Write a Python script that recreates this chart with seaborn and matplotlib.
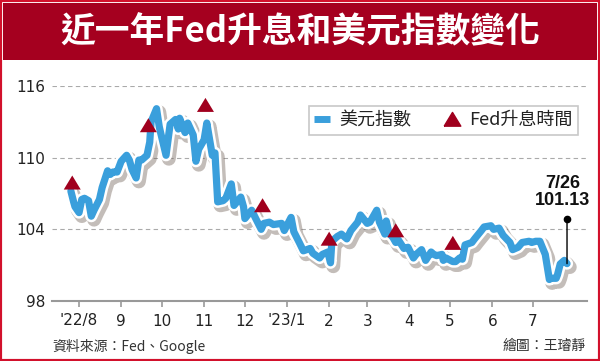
import matplotlib
matplotlib.use('Agg')
import matplotlib.pyplot as plt
import matplotlib.patheffects as pe
import matplotlib.dates as mdates
import matplotlib.transforms as mtrans
from matplotlib.lines import Line2D
from matplotlib.patches import Rectangle
import pandas as pd
import seaborn as sns

# ---------------- data ----------------
dxy_dates = [
    "2022-07-26", "2022-07-28", "2022-07-29", "2022-08-01", "2022-08-03", "2022-08-05",
    "2022-08-08", "2022-08-10", "2022-08-12", "2022-08-16", "2022-08-18", "2022-08-22",
    "2022-08-24", "2022-08-26", "2022-08-29", "2022-09-01", "2022-09-05", "2022-09-07",
    "2022-09-09", "2022-09-12", "2022-09-14", "2022-09-16", "2022-09-20", "2022-09-22",
    "2022-09-23", "2022-09-27", "2022-09-29", "2022-09-30", "2022-10-04", "2022-10-07",
    "2022-10-11", "2022-10-13", "2022-10-14", "2022-10-18", "2022-10-20", "2022-10-24",
    "2022-10-26", "2022-10-28", "2022-11-01", "2022-11-03", "2022-11-07", "2022-11-09",
    "2022-11-11", "2022-11-15", "2022-11-17", "2022-11-21", "2022-11-23", "2022-11-28",
    "2022-11-30", "2022-12-01", "2022-12-06", "2022-12-09", "2022-12-13", "2022-12-15",
    "2022-12-19", "2022-12-22", "2022-12-28", "2022-12-30", "2023-01-04", "2023-01-06",
    "2023-01-10", "2023-01-13", "2023-01-18", "2023-01-20", "2023-01-25", "2023-01-27",
    "2023-01-31", "2023-02-02", "2023-02-03", "2023-02-07", "2023-02-10", "2023-02-14",
    "2023-02-17", "2023-02-22", "2023-02-24", "2023-03-01", "2023-03-03", "2023-03-08",
    "2023-03-10", "2023-03-14", "2023-03-15", "2023-03-17", "2023-03-20", "2023-03-22",
    "2023-03-24", "2023-03-28", "2023-03-31", "2023-04-04", "2023-04-06", "2023-04-10",
    "2023-04-13", "2023-04-17", "2023-04-19", "2023-04-21", "2023-04-25", "2023-04-26",
    "2023-04-28", "2023-05-03", "2023-05-05", "2023-05-08", "2023-05-10", "2023-05-12",
    "2023-05-17", "2023-05-19", "2023-05-24", "2023-05-26", "2023-05-31", "2023-06-02",
    "2023-06-06", "2023-06-09", "2023-06-14", "2023-06-16", "2023-06-20", "2023-06-23",
    "2023-06-28", "2023-06-30", "2023-07-03", "2023-07-06", "2023-07-10", "2023-07-12",
    "2023-07-13", "2023-07-14", "2023-07-18", "2023-07-19", "2023-07-21", "2023-07-24",
    "2023-07-26",
]
dxy_values = [
    107.2, 106.3, 105.9, 105.4, 106.5, 106.6,
    106.4, 105.1, 105.6, 106.5, 107.5, 108.9,
    108.6, 108.8, 108.8, 109.7, 110.2, 109.8,
    109.0, 108.3, 109.8, 109.8, 110.2, 111.3,
    113.0, 114.1, 112.6, 112.1, 110.2, 112.8,
    113.2, 112.4, 113.3, 112.1, 112.9, 111.9,
    109.7, 110.7, 111.5, 112.9, 110.2, 110.4,
    106.3, 106.4, 106.6, 107.8, 106.0, 106.7,
    105.9, 104.9, 105.6, 104.9, 104.0, 104.5,
    104.6, 104.4, 104.5, 103.9, 105.0, 103.8,
    102.9, 102.2, 102.4, 102.0, 101.6, 101.9,
    102.1, 101.2, 103.0, 103.4, 103.6, 103.2,
    103.9, 104.6, 105.2, 104.5, 104.6, 105.6,
    104.6, 103.6, 104.7, 103.7, 103.3, 102.9,
    103.1, 102.4, 102.5, 101.6, 101.9, 102.3,
    101.4, 102.1, 101.9, 101.8, 101.9, 101.4,
    101.6, 101.3, 101.3, 101.6, 101.5, 102.7,
    102.9, 103.2, 103.9, 104.2, 104.3, 104.0,
    104.1, 103.5, 102.9, 102.3, 102.5, 102.9,
    103.0, 102.9, 103.0, 103.0, 101.9, 100.5,
    99.8, 99.9, 99.9, 100.2, 101.1, 101.4,
    101.13,
]
hike_dates = ["2022-07-27", "2022-09-21", "2022-11-02", "2022-12-14",
              "2023-02-01", "2023-03-22", "2023-05-03"]
hike_marker_values = [107.9, 112.7, 114.4, 106.0, 103.2, 103.9, 102.85]

tick_dates = ["2022-08-01", "2022-09-01", "2022-10-01", "2022-11-01", "2022-12-01",
              "2023-01-01", "2023-02-01", "2023-03-01", "2023-04-01", "2023-05-01",
              "2023-06-01", "2023-07-01"]
tick_labels = ["'22/8", "9", "10", "11", "12", "'23/1", "2", "3", "4", "5", "6", "7"]
y_ticks = [98, 104, 110, 116]

title = "近一年Fed升息和美元指數變化"
legend_labels = ["美元指數", "Fed升息時間"]
last_label = "7/26\n101.13"
source_text = "資料來源：Fed、Google"
credit_text = "繪圖：王璿靜"

# ---------------- style ----------------
BLUE = "#3a9fdc"
DARKRED = "#a0001e"
BANNER = "#a5001f"
TRI = [(-1.0, -0.8), (1.0, -0.8), (0.0, 0.85), (-1.0, -0.8)]

sns.set_theme(style="white")
plt.rcParams["font.family"] = ["Noto Sans CJK TC", "DejaVu Sans"]

fig = plt.figure(figsize=(6, 3.61), dpi=100)
fig.patch.set_facecolor("white")

ax = fig.add_axes([52 / 600, 1 - 301 / 361, 535 / 600, 215 / 361])
ax.set_facecolor("none")

df = pd.DataFrame({"date": pd.to_datetime(dxy_dates), "value": dxy_values})
hk = pd.DataFrame({"date": pd.to_datetime(hike_dates), "value": hike_marker_values})

# gridlines
for v in y_ticks[1:]:
    ax.axhline(v, color="#aaaaaa", lw=0.8, ls=(0, (4, 3)), zorder=0)

sns.lineplot(data=df, x="date", y="value", ax=ax, color=BLUE, lw=5.2,
             solid_capstyle="round", solid_joinstyle="round", zorder=3)
line = ax.lines[-1]
line.set_path_effects([
    pe.SimpleLineShadow(offset=(2, -2.5), shadow_color="#6b5a50", alpha=0.4, linewidth=10),
    pe.Stroke(linewidth=8.8, foreground="white"),
    pe.Normal(),
])

sns.scatterplot(data=hk, x="date", y="value", ax=ax, marker=TRI, s=150,
                color=DARKRED, edgecolor="none", zorder=5, legend=False)

# axes formatting
x0 = mdates.date2num(pd.Timestamp("2022-08-01"))
ax.set_xlim(x0 - 19.9, x0 + 373.7)
ax.set_ylim(98, 116)
ax.set_xticks(mdates.date2num(pd.to_datetime(tick_dates)))
ax.set_xticklabels(tick_labels)
ax.set_yticks(y_ticks)
ax.set_yticklabels([str(v) for v in y_ticks])
ax.set_xlabel("")
ax.set_ylabel("")
for s in ["top", "right", "left"]:
    ax.spines[s].set_visible(False)
ax.spines["bottom"].set_color("#999999")
ax.spines["bottom"].set_linewidth(1.5)
ax.tick_params(axis="x", length=4, width=1.2, color="#999999", pad=5,
               labelsize=11, labelcolor="#222222", bottom=True)
ax.tick_params(axis="y", length=0, pad=5, labelsize=11, labelcolor="#222222")
for lbl in ax.get_xticklabels() + ax.get_yticklabels():
    lbl.set_fontfamily("DejaVu Sans")

# legend
handles = [
    Line2D([], [], color=BLUE, lw=5, solid_capstyle="butt"),
    Line2D([], [], marker=TRI, ls="none", color=DARKRED, markersize=12),
]
leg = ax.legend(handles, legend_labels, loc="upper right", bbox_to_anchor=(0.983, 0.907),
                ncol=2, frameon=True, fancybox=False, edgecolor="#bbbbbb",
                fontsize=13, handlelength=0.9, handletextpad=0.5, columnspacing=1.8,
                borderpad=0.3, borderaxespad=0)
leg.get_frame().set_linewidth(1.2)
for t in leg.get_texts():
    t.set_color("#222222")

# last-value annotation
last_x = mdates.date2num(df["date"].iloc[-1])
last_y = df["value"].iloc[-1]
ax.annotate("", xy=(last_x, last_y), xytext=(0, 32), textcoords="offset points",
            arrowprops=dict(arrowstyle="-", color="black", lw=1, shrinkA=0, shrinkB=0),
            zorder=6)
ax.plot([last_x], [last_y], "o", ms=4.5, color="black", zorder=6,
        transform=mtrans.offset_copy(ax.transData, fig=fig, x=0, y=32, units="points"))
ax.annotate(last_label, xy=(last_x, last_y), xytext=(-3, 39), textcoords="offset points",
            ha="center", va="bottom", fontsize=13, fontweight="bold",
            family="Liberation Sans", color="#111111", linespacing=1.05)

# banner, border, title
fig.patches.append(Rectangle((3 / 600, 1 - 60 / 361), 594 / 600, 57 / 361,
                             transform=fig.transFigure, facecolor=BANNER,
                             edgecolor="none", zorder=0))
fig.patches.append(Rectangle((0, 0), 1, 1, transform=fig.transFigure, fill=False,
                             edgecolor="#d2112c", lw=3, zorder=10))
fig.text(0.5, 1 - 32 / 361, title, color="white", fontsize=25, fontweight="bold",
         ha="center", va="center")

fig.text(52 / 600, 1 - 346 / 361, source_text, fontsize=10, color="#333333",
         ha="left", va="center")
fig.text(586 / 600, 1 - 346 / 361, credit_text, fontsize=10, color="#333333",
         ha="right", va="center")

fig.savefig("out.png", dpi=100)
